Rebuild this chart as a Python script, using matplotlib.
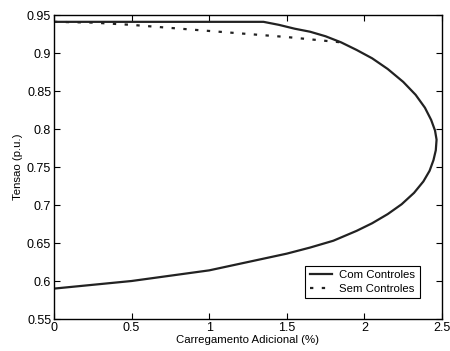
import matplotlib
matplotlib.use("Agg")
import matplotlib.pyplot as plt

plt.rcParams['font.family'] = ['Liberation Sans', 'DejaVu Sans']

# Com Controles: upper branch -> nose -> lower branch
com_x = [0, 0.5, 1.0, 1.35, 1.45, 1.55, 1.65, 1.75, 1.85, 1.95, 2.05, 2.15, 2.25,
         2.33, 2.39, 2.43, 2.455, 2.465, 2.46, 2.445, 2.42, 2.38, 2.32, 2.24,
         2.15, 2.05, 1.95, 1.80, 1.65, 1.5, 1.25, 1.0, 0.75, 0.5, 0.25, 0]
com_y = [0.941, 0.941, 0.941, 0.941, 0.937, 0.932, 0.928, 0.922, 0.914, 0.904,
         0.893, 0.879, 0.862, 0.845, 0.828, 0.812, 0.798, 0.786, 0.772, 0.759,
         0.745, 0.731, 0.716, 0.701, 0.688, 0.676, 0.666, 0.653, 0.644, 0.636,
         0.625, 0.614, 0.607, 0.600, 0.595, 0.590]

# Sem Controles (dashed) until it meets the solid curve
sem_x = [0, 0.25, 0.5, 0.75, 1.0, 1.25, 1.5, 1.7, 1.85]
sem_y = [0.941, 0.940, 0.937, 0.933, 0.929, 0.925, 0.921, 0.917, 0.914]

fig = plt.figure(figsize=(4.5, 3.51), dpi=100)
ax = fig.add_axes([54/450, 1 - 319/351, 388/450, 304/351])

ax.plot(com_x, com_y, color='#222222', lw=1.6, label='Com Controles')
ax.plot(sem_x, sem_y, color='#222222', lw=1.6, linestyle=(0, (1.5, 3.8)),
        label='Sem Controles')

ax.set_xlim(0, 2.5)
ax.set_ylim(0.55, 0.95)
ax.set_xticks([0, 0.5, 1, 1.5, 2, 2.5])
ax.set_xticklabels(['0', '0.5', '1', '1.5', '2', '2.5'])
ax.set_yticks([0.55, 0.6, 0.65, 0.7, 0.75, 0.8, 0.85, 0.9, 0.95])
ax.set_yticklabels(['0.55', '0.6', '0.65', '0.7', '0.75', '0.8', '0.85', '0.9', '0.95'])
ax.tick_params(direction='in', top=True, right=True, labelsize=9, length=4,
               width=0.8, pad=2)
for s in ax.spines.values():
    s.set_linewidth(1.0)

ax.set_xlabel('Carregamento Adicional (%)', fontsize=8.2, labelpad=1)
ax.set_ylabel('Tensao (p.u.)', fontsize=8.2, labelpad=3)

leg = ax.legend(loc='lower right', bbox_to_anchor=(0.943, 0.068), borderaxespad=0,
                fontsize=8.2, fancybox=False, edgecolor='black', framealpha=1,
                handlelength=2.0, handletextpad=0.6, labelspacing=0.3,
                borderpad=0.4)
leg.get_frame().set_linewidth(0.8)

fig.savefig('out.png', dpi=100)
